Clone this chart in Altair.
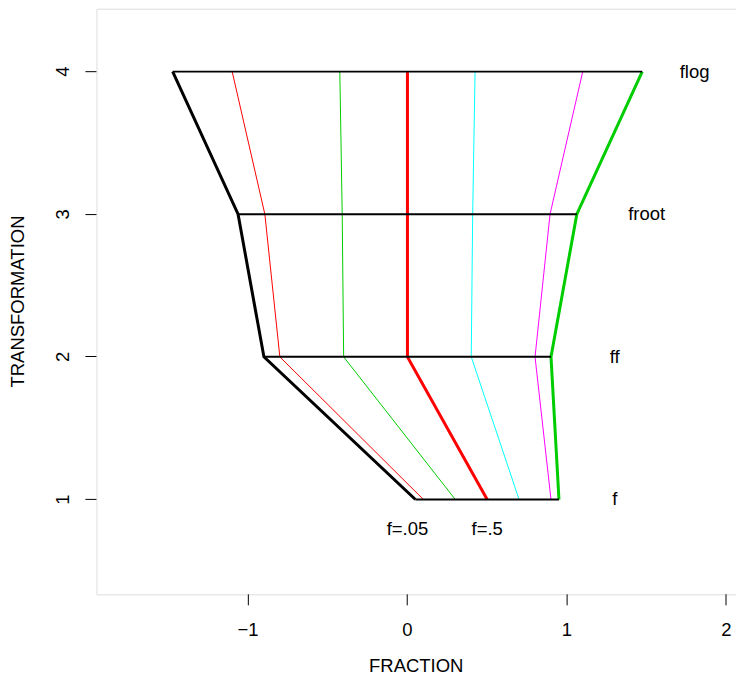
import altair as alt
import pandas as pd

levels = [1, 2, 3, 4]
level_names = ["f", "ff", "froot", "flog"]
fractions = [".05", ".1", ".3", ".5", ".7", ".9", ".95"]
x_f = [0.05, 0.10, 0.30, 0.50, 0.70, 0.90, 0.95]
x_ff = [-0.90, -0.80, -0.40, 0.00, 0.40, 0.80, 0.90]
x_froot = [-1.062, -0.894, -0.409, 0.00, 0.409, 0.894, 1.062]
x_flog = [-1.472, -1.099, -0.424, 0.00, 0.424, 1.099, 1.472]
series_colors = ["#000000", "#FF0000", "#00CD00", "#FF0000", "#00FFFF", "#FF00FF", "#00CD00"]
series_widths = [3, 1, 1, 3, 1, 1, 3]

label_x = [1.30, 1.30, 1.50, 1.80]
note_text = ["f=.05", "f=.5"]
note_x = [0.0, 0.5]
note_y = [0.79, 0.79]

cols = [x_f, x_ff, x_froot, x_flog]
rows = []
for i, fr in enumerate(fractions):
    for j, lv in enumerate(levels):
        rows.append({"frac": fr, "lvl": lv, "x": cols[j][i],
                     "color": series_colors[i], "w": series_widths[i], "k": i})
df = pd.DataFrame(rows)

hdf = pd.DataFrame({"lvl": levels, "x1": [min(c) for c in cols], "x2": [max(c) for c in cols]})
ldf = pd.DataFrame({"lvl": levels, "x": label_x, "t": level_names})
ndf = pd.DataFrame({"x": note_x, "y": note_y, "t": note_text})

FONT = "Liberation Sans"
FS = 18.5
xs = alt.Scale(domain=[-1.95, 2.06], nice=False, zero=False)
ys = alt.Scale(domain=[0.335, 4.441], nice=False, zero=False)

xaxis = alt.Axis(values=[-1, 0, 1, 2], format="d", domain=False, grid=False, tickSize=11,
                 translate=0, tickColor="black", labelFontSize=FS, labelFont=FONT,
                 labelColor="black", labelPadding=16, labelBaseline="top", title="FRACTION",
                 titleFont=FONT, titleFontSize=FS, titleFontWeight="normal", titleColor="black",
                 titlePadding=17)
yaxis = alt.Axis(values=[1, 2, 3, 4], format="d", domain=False, grid=False, tickSize=11,
                 translate=0, tickColor="black", labelFontSize=FS, labelFont=FONT,
                 labelColor="black", labelAngle=-90, labelAlign="center",
                 labelBaseline="bottom", labelPadding=12, title="TRANSFORMATION",
                 titleFont=FONT, titleFontSize=FS, titleFontWeight="normal",
                 titleColor="black", titlePadding=26)

lines = alt.Chart(df).mark_line().encode(
    x=alt.X("x:Q", scale=xs, axis=xaxis),
    y=alt.Y("lvl:Q", scale=ys, axis=yaxis),
    detail="k:N",
    order="lvl:Q",
    color=alt.Color("color:N", scale=None),
    strokeWidth=alt.StrokeWidth("w:Q", scale=None),
)

hrules = alt.Chart(hdf).mark_rule(color="black", strokeWidth=2).encode(
    x=alt.X("x1:Q", scale=xs), x2="x2:Q", y=alt.Y("lvl:Q", scale=ys))

labels = alt.Chart(ldf).mark_text(font=FONT, fontSize=FS, color="black").encode(
    x=alt.X("x:Q", scale=xs), y=alt.Y("lvl:Q", scale=ys), text="t:N")

notes = alt.Chart(ndf).mark_text(font=FONT, fontSize=FS, color="black").encode(
    x=alt.X("x:Q", scale=xs), y=alt.Y("y:Q", scale=ys), text="t:N")

chart = alt.layer(lines, hrules, labels, notes).properties(
    width=640, height=586,
    autosize=alt.AutoSizeParams(type="none"),
    padding={"left": 88.5, "top": 0.5, "right": 0, "bottom": 81.5},
).configure_view(stroke="#000000", strokeOpacity=1, strokeWidth=1).configure(background="white")

chart.save("out.html", embed_options={"renderer": "svg", "actions": False})
